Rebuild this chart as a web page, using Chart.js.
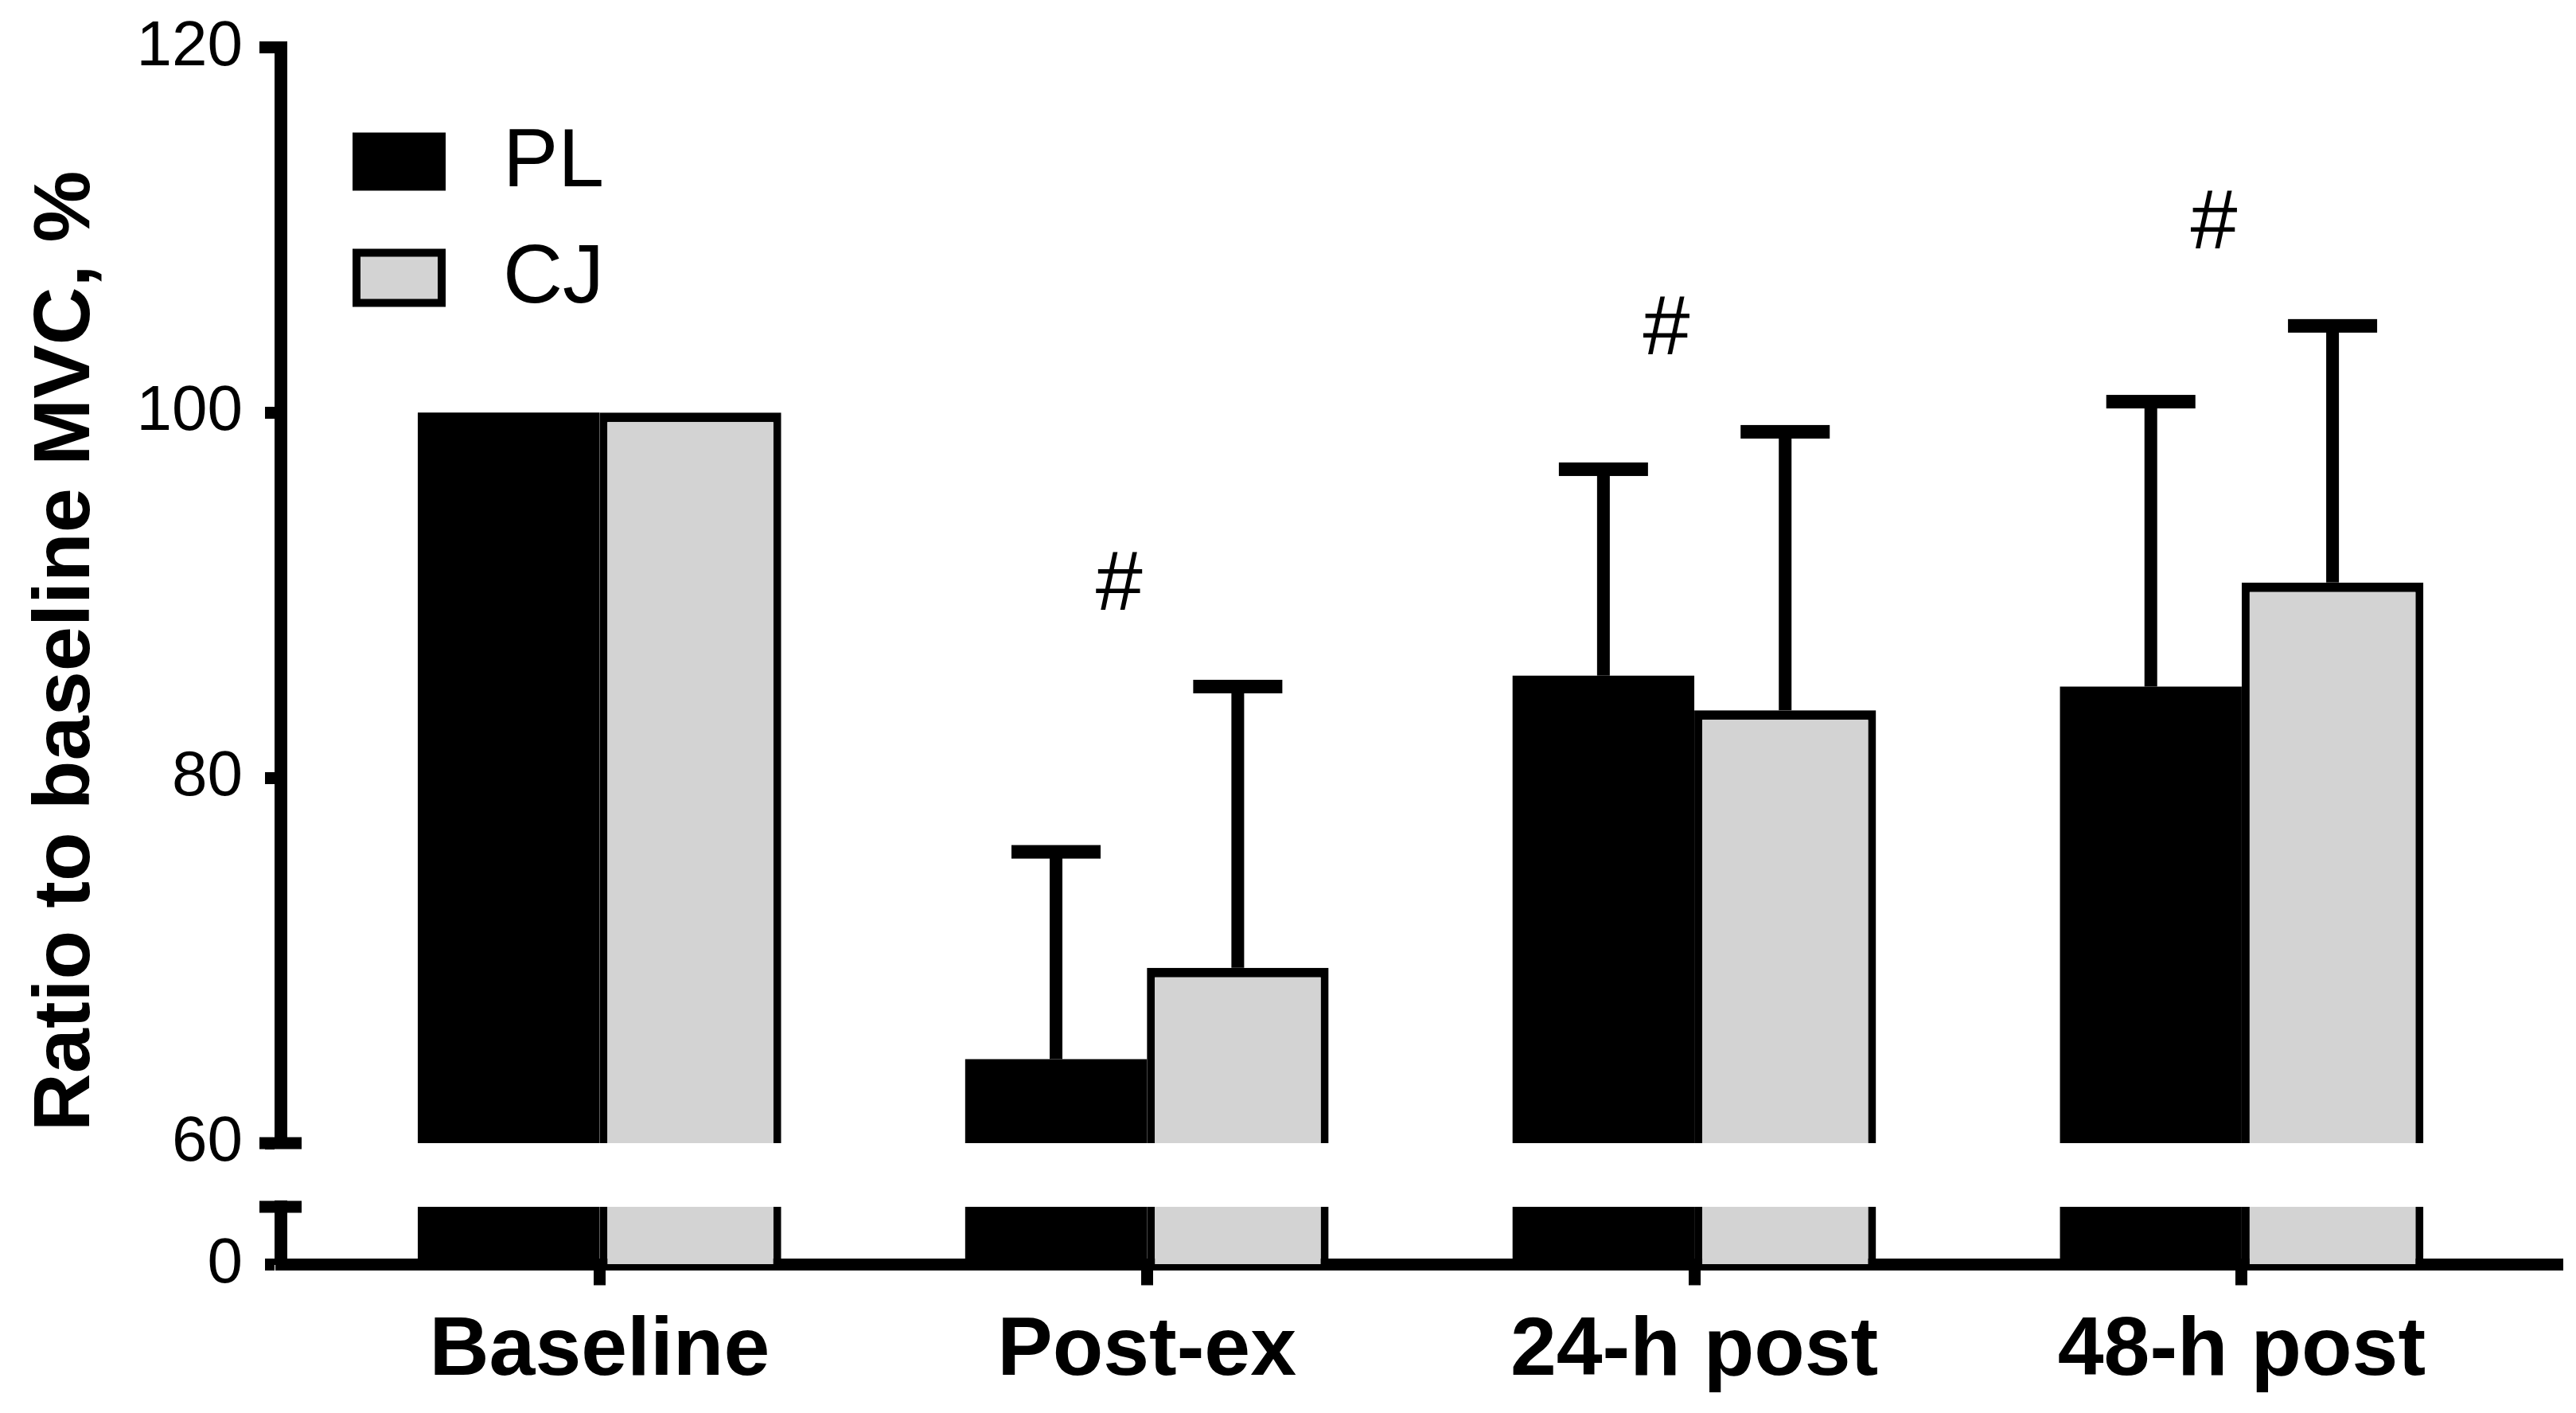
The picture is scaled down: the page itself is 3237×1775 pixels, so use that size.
<!DOCTYPE html>
<html lang="en">
<head>
<meta charset="UTF-8">
<title>Ratio to baseline MVC</title>
<script src="https://cdn.jsdelivr.net/npm/chart.js"></script>
<style>
  body { margin: 0; background: #ffffff; }
  canvas { display: block; }
</style>
</head>
<body>
<canvas id="mvcChart" width="3237" height="1775"></canvas>
<script>
// data (mean and upper SD, % of baseline MVC)
const timepoints = ['Baseline', 'Post-ex', '24-h post', '48-h post'];
const plMean = [100, 64.6, 85.6, 85.0];
const plSD   = [0, 11.35, 11.3, 15.6];
const cjMean = [100, 69.6, 83.7, 90.7];
const cjSD   = [0, 15.4, 15.25, 14.05];
const significant = [false, true, true, true];   // '#' markers
const upperTicks = [60, 80, 100, 120];
const lowerTicks = [0, 5];                       // 5 = top of the lower (broken) segment

const FONT = "'Liberation Sans', Arial, sans-serif";
const BLACK = '#000000';
const GREY = '#d3d3d3';
const lowTop = lowerTicks[lowerTicks.length - 1];

Chart.defaults.font.family = FONT;
Chart.defaults.color = BLACK;

// error bars (upward only) drawn from the yTop scale
const errorBars = {
    id: 'errorBars',
    afterDatasetsDraw(chart) {
        const ctx = chart.ctx;
        const yScale = chart.scales.yTop;
        ctx.save();
        ctx.fillStyle = BLACK;
        chart.data.datasets.forEach((ds, di) => {
            if (!ds.sd) return;
            const meta = chart.getDatasetMeta(di);
            meta.data.forEach((bar, i) => {
                const sd = ds.sd[i];
                if (!sd) return;
                const yEnd = yScale.getPixelForValue(ds.data[i].y + sd);
                ctx.fillRect(bar.x - 8, yEnd, 16, bar.y - yEnd);
                ctx.fillRect(bar.x - 56, yEnd - 8.5, 112, 17);
            });
        });

        // '#' above each significant time point
        ctx.font = '106px ' + FONT;
        ctx.textAlign = 'center';
        ctx.textBaseline = 'middle';
        significant.forEach((sig, i) => {
            if (!sig) return;
            const top = Math.max(plMean[i] + plSD[i], cjMean[i] + cjSD[i]);
            const x = chart.scales.x.getPixelForValue(i) - 35;
            ctx.fillText('#', x, yScale.getPixelForValue(top + 5.5));
        });
        ctx.restore();
    }
};

// caps of the broken y axis and the legend
const axisAndLegend = {
    id: 'axisAndLegend',
    afterDraw(chart) {
        const {ctx, chartArea, scales} = chart;
        const x0 = chartArea.left;
        ctx.save();
        ctx.fillStyle = BLACK;
        [[scales.yTop, scales.yTop.max, 8], [scales.yTop, scales.yTop.min, 26], [scales.yBot, scales.yBot.max, 26]]
            .forEach(([s, v, r]) => {
                const y = s.getPixelForValue(v);
                ctx.fillRect(x0 - 27, y - 7.5, 27 + r, 15);
            });

        const rows = chart.data.datasets.filter(ds => ds.yAxisID === 'yTop');
        ctx.font = '104px ' + FONT;
        ctx.textAlign = 'left';
        ctx.textBaseline = 'middle';
        rows.forEach((ds, k) => {
            const bx = x0 + 90, by = chartArea.top + 107 + k * 146, bw = 117, bh = 73;
            ctx.fillStyle = BLACK;
            ctx.fillRect(bx, by, bw, bh);
            if (ds.backgroundColor !== BLACK) {
                ctx.fillStyle = ds.backgroundColor;
                ctx.fillRect(bx + 10, by + 10, bw - 20, bh - 20);
            }
            ctx.fillStyle = BLACK;
            ctx.fillText(ds.label, x0 + 279, by + bh / 2 + 2);
        });
        ctx.restore();
    }
};

const points = arr => arr.map((v, i) => ({x: i, y: v}));
const lowPoints = arr => arr.map((v, i) => ({x: i, y: Math.min(v, lowTop)}));

const datasets = [
    {
        label: 'PL', data: points(plMean), sd: plSD, yAxisID: 'yTop', stack: 'PL',
        backgroundColor: BLACK, borderWidth: 0
    },
    {
        label: 'CJ', data: points(cjMean), sd: cjSD, yAxisID: 'yTop', stack: 'CJ',
        backgroundColor: GREY, borderColor: BLACK, borderSkipped: false,
        borderWidth: {top: 12, left: 10, right: 10, bottom: 0}
    },
    {
        label: 'PL', data: lowPoints(plMean), yAxisID: 'yBot', stack: 'PL',
        backgroundColor: BLACK, borderWidth: 0
    },
    {
        label: 'CJ', data: lowPoints(cjMean), yAxisID: 'yBot', stack: 'CJ',
        backgroundColor: GREY, borderColor: BLACK, borderSkipped: false,
        borderWidth: {top: 0, left: 10, right: 10, bottom: 0}
    }
];

// fixed axis width; the label overflow is already covered by the layout padding
const fitYAxis = s => {
    s.width = 353;
    s.paddingTop = 0;
    s.paddingBottom = 0;
};

const yTickStyle = {
    grid: { drawOnChartArea: false, tickLength: 20, tickWidth: 15, tickColor: BLACK },
    border: { color: BLACK, width: 16 }
};

new Chart(document.getElementById('mvcChart'), {
    type: 'bar',
    data: { datasets },
    options: {
        responsive: false,
        animation: false,
        layout: { padding: { left: 0, top: 59.5, right: 17, bottom: 0 } },
        datasets: { bar: { categoryPercentage: 0.664, barPercentage: 1.0 } },
        plugins: { legend: { display: false }, tooltip: { enabled: false } },
        scales: {
            x: {
                type: 'linear', stacked: true, offset: false, min: -0.582, max: 3.586,
                afterBuildTicks: s => { s.ticks = timepoints.map((_, i) => ({value: i})); },
                afterFit: s => { s.height = 186.5; },
                ticks: {
                    callback: v => timepoints[v], autoSkip: false, maxRotation: 0,
                    padding: 21, color: BLACK, font: { size: 104, weight: 'bold' }
                },
                grid: { offset: false, drawOnChartArea: false, tickLength: 26, tickWidth: 15, tickColor: BLACK },
                border: { color: BLACK, width: 15 }
            },
            yTop: {
                type: 'linear', position: 'left', stack: 'y', stackWeight: 1376.5, weight: 3,
                min: upperTicks[0], max: upperTicks[upperTicks.length - 1], stacked: false,
                afterBuildTicks: s => { s.ticks = upperTicks.map(v => ({value: v})); },
                afterFit: fitYAxis,
                ticks: { padding: 28, color: BLACK, font: { size: 80 } },
                ...yTickStyle,
                title: {
                    display: true,
                    text: 'Ratio to baseline MVC, %' + '\u00a0'.repeat(5),
                    color: BLACK,
                    font: { size: 101, weight: 'bold' },
                    padding: { top: 24, bottom: 0 }
                }
            },
            yGap: {
                type: 'linear', position: 'left', stack: 'y', stackWeight: 80, weight: 2,
                display: false
            },
            yBot: {
                type: 'linear', position: 'left', stack: 'y', stackWeight: 72.5, weight: 1,
                min: lowerTicks[0], max: lowTop, stacked: false,
                afterBuildTicks: s => { s.ticks = lowerTicks.map(v => ({value: v})); },
                afterFit: fitYAxis,
                ticks: { padding: 28, color: BLACK, font: { size: 80 },
                         callback: v => (v === 0 ? '0' : '') },
                ...yTickStyle
            }
        }
    },
    plugins: [errorBars, axisAndLegend]
});
</script>
</body>
</html>
